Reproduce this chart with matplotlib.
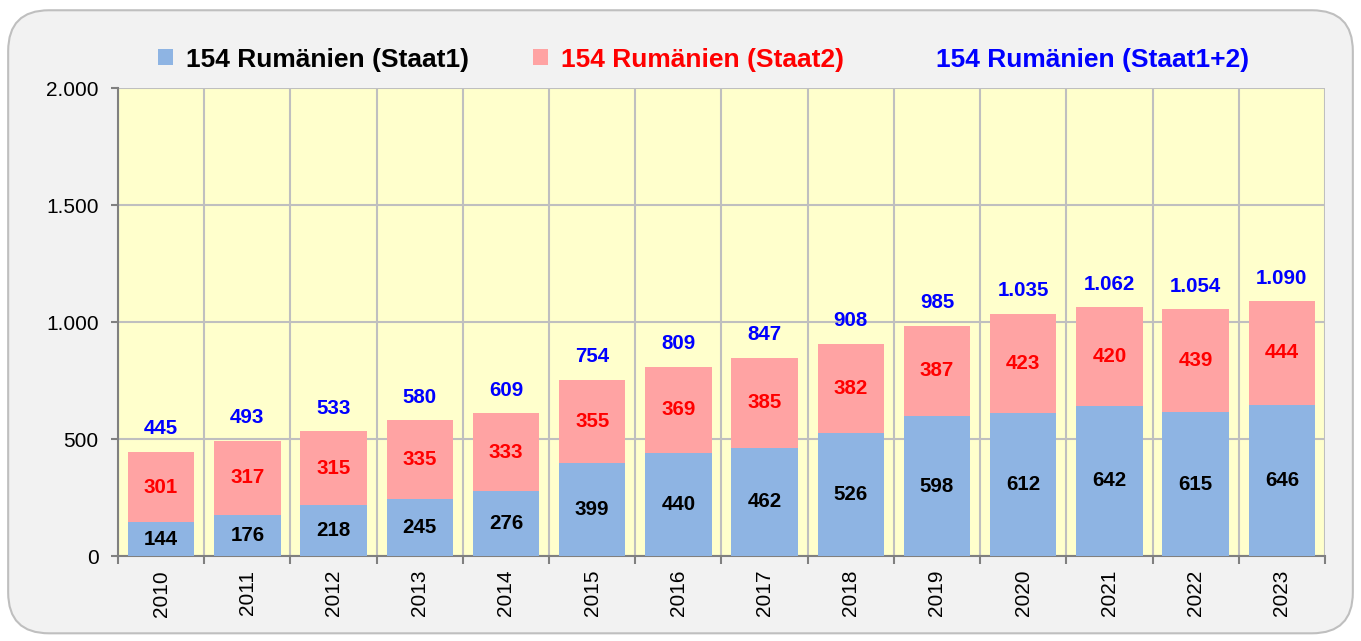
import matplotlib
matplotlib.use("Agg")
import matplotlib.pyplot as plt
from matplotlib.patches import FancyBboxPatch, Patch
from matplotlib.ticker import FuncFormatter, MultipleLocator
import numpy as np

plt.rcParams['font.family'] = ['Liberation Sans', 'DejaVu Sans']

years = ["2010", "2011", "2012", "2013", "2014", "2015", "2016", "2017",
         "2018", "2019", "2020", "2021", "2022", "2023"]
staat1 = [144, 176, 218, 245, 276, 399, 440, 462, 526, 598, 612, 642, 615, 646]
staat2 = [301, 317, 315, 335, 333, 355, 369, 385, 382, 387, 423, 420, 439, 444]
total = [445, 493, 533, 580, 609, 754, 809, 847, 908, 985, 1035, 1062, 1054, 1090]

def de_fmt(v):
    return f"{int(round(v)):,}".replace(",", ".")

fig = plt.figure(figsize=(13.61, 6.41), dpi=100)
fig.patch.set_facecolor("white")
bg = FancyBboxPatch((0.006, 0.012), 0.988, 0.972, boxstyle="round,pad=0,rounding_size=0.03",
                    transform=fig.transFigure, facecolor="#f2f2f2", edgecolor="#bfbfbf",
                    linewidth=1.5, mutation_aspect=1361/641, zorder=-10)
fig.add_artist(bg)

ax = fig.add_axes([0.0867, 0.1326, 0.8868, 0.7301])
ax.set_zorder(1)
ax.set_facecolor("#ffffcc")
x = np.arange(len(years))
w = 0.77
b1 = ax.bar(x, staat1, w, color="#8eb4e3", zorder=3, label="154 Rumänien (Staat1)")
b2 = ax.bar(x, staat2, w, bottom=staat1, color="#ffa3a3", zorder=3, label="154 Rumänien (Staat2)")

lbl_size = 14.8
for i in range(len(years)):
    ax.text(x[i], staat1[i] / 2, de_fmt(staat1[i]), ha="center", va="center",
            fontsize=lbl_size, fontweight="bold", color="black", zorder=4)
    ax.text(x[i], staat1[i] + staat2[i] / 2, de_fmt(staat2[i]), ha="center", va="center",
            fontsize=lbl_size, fontweight="bold", color="red", zorder=4)
    ax.annotate(de_fmt(total[i]), (x[i], total[i]), xytext=(0, 16.5), textcoords="offset points",
                ha="center", va="center", fontsize=lbl_size, fontweight="bold", color="blue", zorder=4)

ax.set_xlim(-0.5, len(years) - 0.5)
ax.set_ylim(0, 2000)
ax.yaxis.set_major_locator(MultipleLocator(500))
ax.yaxis.set_major_formatter(FuncFormatter(lambda v, p: de_fmt(v)))
ax.set_xticks(x)
ax.set_xticklabels(years, rotation=90, fontsize=15)
ax.tick_params(axis="x", length=0, pad=10)
ax.set_xticks(np.arange(-0.5, len(years), 1), minor=True)
ax.tick_params(axis="x", which="minor", length=6, color="#808080", width=1.5)
ax.tick_params(axis="y", labelsize=15, length=5, color="#808080", width=1.5, pad=9)
ax.grid(axis="y", color="#bfbfbf", linewidth=1.5, zorder=1)
ax.grid(axis="x", which="minor", color="#bfbfbf", linewidth=1.5, zorder=1)
ax.set_axisbelow(True)
for s in ["top", "right"]:
    ax.spines[s].set_visible(False)
for s in ["left", "bottom"]:
    ax.spines[s].set_color("#808080")
    ax.spines[s].set_linewidth(1.5)

handles = [b1, b2, Patch(facecolor="none", edgecolor="none")]
labels = ["154 Rumänien (Staat1)", "154 Rumänien (Staat2)", "154 Rumänien (Staat1+2)"]
leg = fig.legend(handles, labels, loc="center", bbox_to_anchor=(0.517, 0.907), ncol=3,
                 frameon=False, prop={"weight": "bold", "size": 19}, columnspacing=2.4,
                 handlelength=0.56, handleheight=0.56, handletextpad=0.52)
for t, c in zip(leg.get_texts(), ["black", "red", "blue"]):
    t.set_color(c)

fig.savefig("out.png", dpi=100)
